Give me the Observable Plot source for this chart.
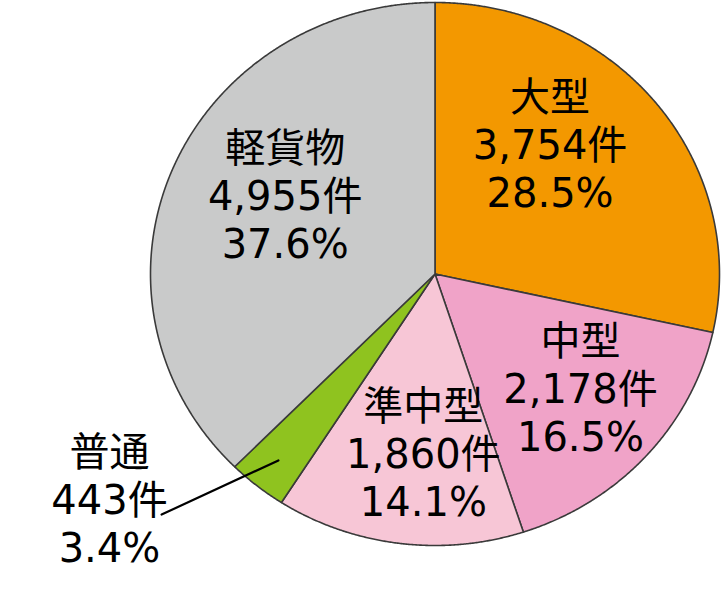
<!DOCTYPE html>
<html>
<head>
<meta charset="utf-8">
<script src="https://cdn.jsdelivr.net/npm/d3@7"></script>
<script src="https://cdn.jsdelivr.net/npm/@observablehq/plot@0.6"></script>
<style>
  html, body { margin: 0; padding: 0; background: #fff; }
</style>
</head>
<body>
<div id="chart"></div>
<script>
const categories = ["大型", "中型", "準中型", "普通", "軽貨物"];
const counts = [3754, 2178, 1860, 443, 4955];
const percents = ["28.5%", "16.5%", "14.1%", "3.4%", "37.6%"];
const colors = ["#F39800", "#F0A3C8", "#F7C6D6", "#8FC31F", "#C9CACA"];

const pie = d3.pie().sort(null).value(d => d)(counts);

// label placement: radius fraction along the slice's mid angle, plus pixel nudges
const labelR = [0.6, 0.6, 0.6, 1.2, 0.6];
const labelDx = [-18, 19, 10, -112, 8];
const labelDy = [-28, 4, 17, -30, -17];

const step = Math.PI / 720;
const slices = pie.map(p => {
  const pts = [{x: 0, y: 0}];
  const n = Math.max(2, Math.ceil((p.endAngle - p.startAngle) / step));
  for (let k = 0; k <= n; k++) {
    const a = p.startAngle + (p.endAngle - p.startAngle) * k / n;
    pts.push({x: Math.sin(a), y: Math.cos(a)});
  }
  pts.push({x: 0, y: 0});
  return pts;
});

const labels = pie.map((p, i) => {
  const a = (p.startAngle + p.endAngle) / 2;
  return {
    x: labelR[i] * Math.sin(a),
    y: labelR[i] * Math.cos(a),
    text: `${categories[i]}\n${d3.format(",")(counts[i])}件\n${percents[i]}`,
    i
  };
});

const marks = slices.map((pts, i) =>
  Plot.line(pts, {x: "x", y: "y", fill: colors[i], stroke: "#3a3a3a", strokeWidth: 1.6, strokeLinejoin: "round"})
);

// leader line for the small 普通 slice
const small = pie[3];
const sa = (small.startAngle + small.endAngle) / 2;
const leader = [{x: 0.88 * Math.sin(sa), y: 0.88 * Math.cos(sa)}, {x: -0.961, y: -0.886}];

const chart = Plot.plot({
  width: 721,
  height: 594,
  margin: 0,
  x: {domain: [-1, 1], range: [150, 719], axis: null},
  y: {domain: [-1, 1], range: [545, 2], axis: null},
  style: {fontFamily: "'DejaVu Sans', 'Noto Sans CJK JP', sans-serif", background: "#fff"},
  marks: [
    ...marks,
    Plot.line(leader, {x: "x", y: "y", stroke: "#000", strokeWidth: 2.2}),
    ...labels.map(d => Plot.text([d], {
      x: "x", y: "y", text: "text",
      fontSize: 40, lineHeight: 1.2, fill: "#000",
      dx: labelDx[d.i], dy: labelDy[d.i]
    }))
  ]
});
document.getElementById("chart").append(chart);
</script>
</body>
</html>
